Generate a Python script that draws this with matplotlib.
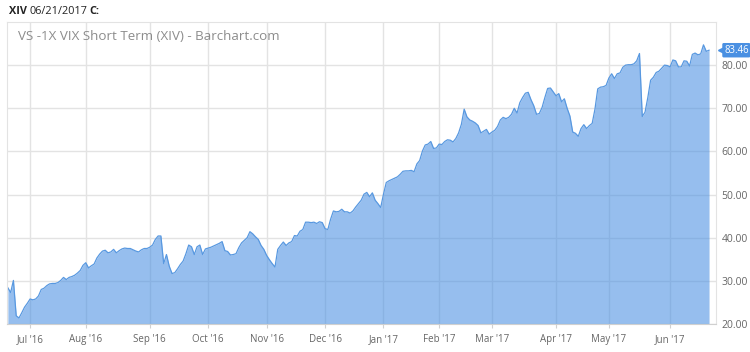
import numpy as np
import pandas as pd
import matplotlib
matplotlib.use('Agg')
import matplotlib.pyplot as plt
import matplotlib.transforms as mtransforms

plt.rcParams['font.family'] = ['Open Sans', 'DejaVu Sans']

symbol = 'XIV'
asof = '06/21/2017'
title = 'VS -1X VIX Short Term (XIV) - Barchart.com'
start, end = '2016-06-21', '2017-06-21'
holidays = ['2016-07-04', '2016-09-05', '2016-11-24', '2016-12-26',
            '2017-01-02', '2017-01-16', '2017-02-20', '2017-04-14',
            '2017-05-29']
# daily closes, one per trading session
closes = [
    28.4, 27.3, 30.1, 21.9, 21.4, 22.6, 23.9, 24.8, 25.8, 25.6,
    25.8, 26.5, 28.0, 28.3, 28.9, 29.3, 29.4, 29.4, 29.6, 30.1,
    30.8, 30.3, 30.8, 31.0, 31.3, 31.8, 32.4, 33.6, 34.2, 33.0,
    33.5, 33.9, 35.3, 36.2, 36.9, 37.1, 36.5, 36.7, 37.3, 36.5,
    37.0, 37.4, 37.6, 37.5, 37.5, 37.2, 36.9, 36.7, 37.2, 37.5,
    37.5, 37.8, 38.3, 39.6, 40.4, 40.4, 34.0, 36.1, 33.4, 31.7,
    31.9, 32.8, 33.8, 34.6, 36.3, 38.3, 37.9, 36.1, 37.9, 38.3,
    36.1, 37.4, 37.6, 37.8, 38.1, 38.4, 38.7, 39.1, 37.0, 36.8,
    36.0, 36.1, 36.3, 37.7, 38.8, 39.4, 40.0, 41.4, 40.9, 40.2,
    39.6, 38.2, 37.3, 35.9, 34.9, 34.0, 33.2, 37.3, 38.2, 39.0,
    38.2, 38.8, 39.1, 40.5, 40.4, 41.5, 41.9, 43.6, 43.6, 43.5,
    43.6, 43.3, 43.7, 43.5, 42.1, 41.9, 44.3, 46.2, 46.0, 46.1,
    46.6, 46.0, 46.0, 45.7, 46.2, 47.1, 47.9, 48.7, 50.1, 50.5,
    49.5, 50.4, 48.7, 47.9, 47.0, 50.1, 52.8, 53.2, 53.5, 53.8,
    54.1, 54.7, 55.4, 55.5, 55.5, 55.6, 55.3, 57.1, 57.9, 60.1,
    61.5, 61.7, 62.3, 60.7, 60.8, 61.7, 61.6, 62.3, 62.7, 62.6,
    62.2, 63.0, 64.3, 66.3, 69.8, 68.0, 67.3, 67.0, 66.6, 66.0,
    64.3, 64.7, 65.1, 64.0, 64.5, 64.9, 65.8, 67.3, 67.9, 67.6,
    67.9, 68.6, 70.0, 68.9, 71.3, 72.5, 73.5, 73.7, 72.0, 70.6,
    68.6, 68.8, 70.2, 72.5, 74.6, 74.7, 73.8, 72.9, 73.4, 71.5,
    72.2, 70.0, 68.2, 64.5, 64.2, 63.5, 65.3, 66.2, 65.3, 66.0,
    66.5, 69.8, 74.5, 74.9, 75.0, 75.3, 77.0, 78.0, 76.9, 78.0,
    78.2, 79.5, 80.0, 80.1, 80.1, 80.3, 81.0, 82.7, 68.1, 69.1,
    72.5, 76.5, 77.2, 78.3, 78.6, 79.3, 80.0, 79.9, 79.6, 81.2,
    81.0, 79.6, 79.6, 81.0, 80.9, 79.8, 82.5, 82.8, 82.4, 82.6,
    84.7, 83.2, 83.46,
]
yticks = [20, 30, 40, 50, 60, 70, 80]

dates = pd.bdate_range(start, end, freq='C', holidays=holidays)
x = np.arange(len(dates))
months = dates.to_period('M')
first = np.r_[False, months[1:] != months[:-1]]
xticks = x[first]
xlabels = [d.strftime("%b '%y") for d in dates[first]]

W, H = 750, 352
fig = plt.figure(figsize=(W / 100, H / 100), dpi=100)
ax = fig.add_axes([7.3 / W, 1 - 324 / H, (716 - 7.3) / W, (324 - 22) / H])

blue = '#4a90e2'
ax.fill_between(x, closes, 20, color=blue, alpha=0.58, lw=0)
ax.plot(x, closes, color='#5898e0', lw=0.9)

ax.set_xlim(-0.2, len(x) + 1.5)
ax.set_ylim(20, 90)
ax.set_xticks(xticks)
ax.set_xticklabels(xlabels)
ax.set_yticks(yticks)
ax.set_yticklabels(['%.2f' % v for v in yticks])
ax.yaxis.tick_right()
ax.grid(color='#e3e3e3', lw=1)
ax.set_axisbelow(True)
for s in ax.spines.values():
    s.set_color('#e3e3e3')
ax.spines['bottom'].set_color('#d0d0d0')
ax.tick_params(axis='x', length=3, color='#d0d0d0', pad=4,
               labelsize=7, labelcolor='#666666')
ax.tick_params(axis='y', length=0, pad=4, labelsize=7.5,
               labelcolor='#666666')

# last value marker on the right
last = closes[-1]
trans = mtransforms.blended_transform_factory(ax.transAxes, ax.transData)
ax.text(1.0, last, '%.2f' % last,
        transform=trans + mtransforms.Affine2D().translate(8, 0),
        ha='left', va='center', color='white', fontsize=6.9,
        bbox=dict(boxstyle='round,pad=0.18,rounding_size=0.15', fc=blue, ec='none'),
        clip_on=False)
ax.plot([1.0], [last], marker='<', ms=4.5, color=blue, transform=trans
        + mtransforms.Affine2D().translate(5, 0), clip_on=False)

fig.text(18 / W, 1 - 37 / H, title, ha='left', va='center',
         color='#8c8c8c', fontsize=9.6)

# header: bold symbol, date, bold "C:"
fig.canvas.draw()
r = fig.canvas.get_renderer()
px = 9
for txt, wt in [(symbol, 'bold'), (asof, 'normal'), ('C:', 'bold')]:
    t = fig.text(px / W, 1 - 12 / H, txt, ha='left', va='center',
                 fontsize=7.8, fontweight=wt, color='#222222')
    px = t.get_window_extent(r).x1 + 2

fig.savefig('out.png', dpi=100)
